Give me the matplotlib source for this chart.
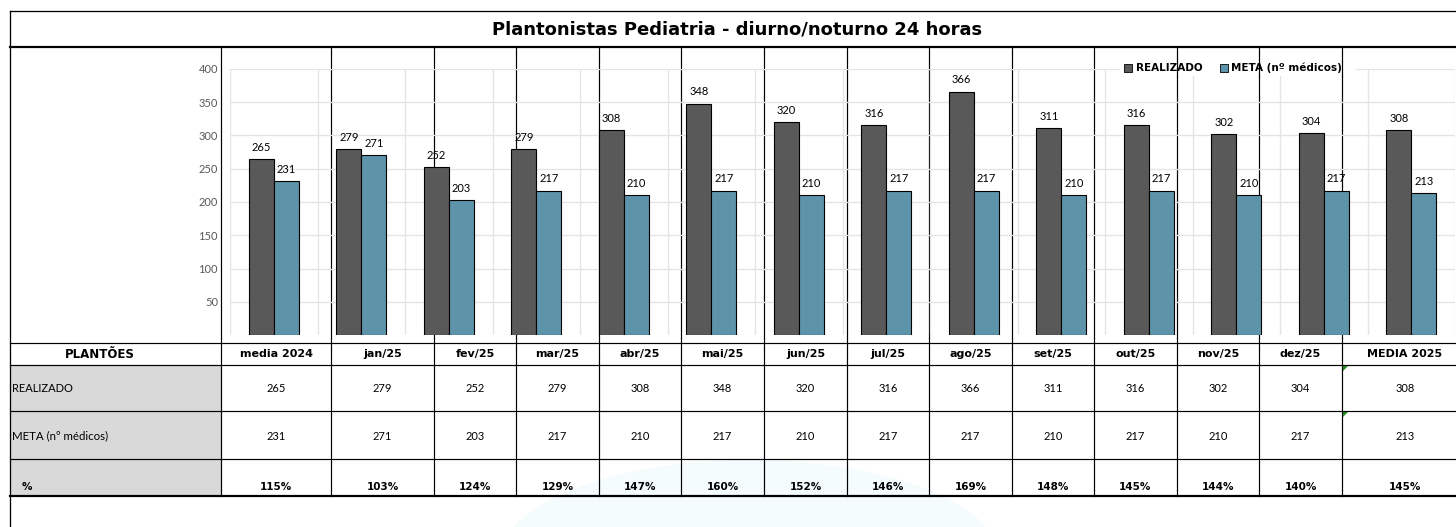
#
# Plantonistas Pediatria - chart + table, recreated from a spreadsheet screenshot
#
import numpy as np
import matplotlib
matplotlib.use("Agg")
import matplotlib.pyplot as plt
from matplotlib.patches import Rectangle, Ellipse, Polygon

# data read from the sheet
categories = ['media 2024', 'jan/25', 'fev/25', 'mar/25', 'abr/25', 'mai/25', 'jun/25',
              'jul/25', 'ago/25', 'set/25', 'out/25', 'nov/25', 'dez/25', 'MEDIA 2025']
realizado = [265, 279, 252, 279, 308, 348, 320, 316, 366, 311, 316, 302, 304, 308]
meta = [231, 271, 203, 217, 210, 217, 210, 217, 217, 210, 217, 210, 217, 213]
percent_labels = ['115%', '103%', '124%', '129%', '147%', '160%', '152%', '146%',
                  '169%', '148%', '145%', '144%', '140%', '145%']
y_ticks = [50, 100, 150, 200, 250, 300, 350, 400]

title = 'Plantonistas Pediatria - diurno/noturno 24 horas'
row_labels = ['REALIZADO', 'META (nº médicos)']

DARK = '#595959'
TEAL = '#5E94A9'
GRID = '#E4E4E4'
W, H = 1456, 527
PX = 0.72  # one pixel in points at 100 dpi

# spreadsheet column borders (pixels)
col_edges = [10, 221, 331, 434, 516, 599, 681, 764, 847, 929, 1012, 1094, 1177, 1259, 1342, 1468]


def pixel_axes(fig, z):
    """Full-figure axes in pixel coords (y down)."""
    a = fig.add_axes([0, 0, 1, 1], zorder=z)
    a.set_xlim(0, W)
    a.set_ylim(H, 0)
    a.axis('off')
    a.patch.set_alpha(0)
    return a


fig = plt.figure(figsize=(W / 100, H / 100), dpi=100)
bg = pixel_axes(fig, 0)

# faint watermark at the bottom
bg.add_patch(Ellipse((750, 560), 500, 200, facecolor='#F4FCFD', edgecolor='none', zorder=0))

# gray label cells
bg.add_patch(Rectangle((10, 365), 211, 131, facecolor='#D9D9D9', edgecolor='none', zorder=1))

# borders
bg.plot([10, W], [11, 11], color='black', lw=1.3 * PX, zorder=2)
bg.plot([10, W], [47, 47], color='black', lw=2.2 * PX, zorder=2)
bg.plot([10, 10], [11, H], color='black', lw=1.3 * PX, zorder=2)
for yy, lw in [(343, 1.2), (365, 1.2), (411, 1.2), (459, 1.2), (496, 2.2)]:
    bg.plot([10, W], [yy, yy], color='black', lw=lw * PX, zorder=2)
for xx in col_edges[1:-1]:
    bg.plot([xx, xx], [47, 496], color='black', lw=1.2 * PX, zorder=2)

# error indicator triangles
for yy in [365, 411]:
    bg.add_patch(Polygon([[1343, yy + 1], [1348, yy + 1], [1343, yy + 6]], closed=True,
                         facecolor='#1F8A1F', edgecolor='none', zorder=3))

# title
bg.text(737, 30, title, ha='center', va='center', fontsize=13, fontweight='bold',
        family='DejaVu Sans', zorder=4)

# table text
centers = [(col_edges[i] + col_edges[i + 1]) / 2 for i in range(1, len(col_edges) - 1)]
bg.text(100, 354, 'PLANTÕES', ha='center', va='center', fontsize=8.5, fontweight='bold',
        family='DejaVu Sans', zorder=4)
bg.text(12, 389, row_labels[0], ha='left', va='center', fontsize=8, family='Lato', zorder=4)
bg.text(12, 436, row_labels[1], ha='left', va='center', fontsize=8.3, family='Lato', zorder=4)
bg.text(22, 487, '%', ha='left', va='center', fontsize=7.5, fontweight='bold',
        family='DejaVu Sans', zorder=4)
for cx, cat, r, m, p in zip(centers, categories, realizado, meta, percent_labels):
    bg.text(cx, 354, cat, ha='center', va='center', fontsize=8, fontweight='bold',
            family='DejaVu Sans', zorder=4)
    bg.text(cx, 389, str(r), ha='center', va='center', fontsize=8, family='Lato', zorder=4)
    bg.text(cx, 436, str(m), ha='center', va='center', fontsize=8, family='Lato', zorder=4)
    bg.text(cx, 487, p, ha='center', va='center', fontsize=7.5, fontweight='bold',
            family='DejaVu Sans', zorder=4)

# chart area, transparent so the cell borders show through
ax = fig.add_axes([230 / W, (H - 335) / H, 1225 / W, 266 / H], zorder=1)
ax.patch.set_alpha(0)
x = np.arange(len(categories))
bw = 0.285

ax.bar(x - bw / 2, realizado, bw, color=DARK, edgecolor='black', lw=0.8, zorder=3)
ax.bar(x + bw / 2, meta, bw, color=TEAL, edgecolor='black', lw=0.8, zorder=3)

for xi, v in zip(x, realizado):
    ax.annotate(str(v), (xi - bw / 2, v), xytext=(0, 4.5), textcoords='offset points',
                ha='center', va='bottom', fontsize=8, family='Lato')
for xi, v in zip(x, meta):
    ax.annotate(str(v), (xi + bw / 2, v), xytext=(0, 4.5), textcoords='offset points',
                ha='center', va='bottom', fontsize=8, family='Lato')

ax.set_xlim(-0.5, len(categories) - 0.5)
ax.set_ylim(0, 400)
ax.set_yticks(y_ticks)
ax.set_xticks([])
ax.yaxis.grid(True, color=GRID, lw=1.3 * PX, zorder=1)
ax.vlines(np.arange(-0.5, len(categories)), 0, 400, color=GRID, lw=1.3 * PX, zorder=1)
ax.tick_params(axis='y', length=0, pad=12 * PX, labelsize=8, labelcolor=DARK)
for lbl in ax.get_yticklabels():
    lbl.set_family('Lato')
for s in ax.spines.values():
    s.set_visible(False)

# legend on top, white box hides the gridline, cell borders still cross it
top = pixel_axes(fig, 2)
top.add_patch(Rectangle((1120, 60), 236, 16, facecolor='white', edgecolor='none', zorder=1))
for xx in col_edges[1:-1]:
    if 1120 < xx < 1356:
        top.plot([xx, xx], [60, 76], color='black', lw=1.2 * PX, zorder=2)
for sx, tx, label, color in [(1124, 1136, 'REALIZADO', DARK), (1220, 1231, 'META (nº médicos)', TEAL)]:
    top.add_patch(Rectangle((sx, 64), 8, 8, facecolor=color, edgecolor='black', lw=0.6, zorder=3))
    top.text(tx, 68, label, ha='left', va='center', fontsize=7.5, fontweight='bold',
             family='DejaVu Sans', zorder=3)

fig.savefig('out.png', dpi=100)
